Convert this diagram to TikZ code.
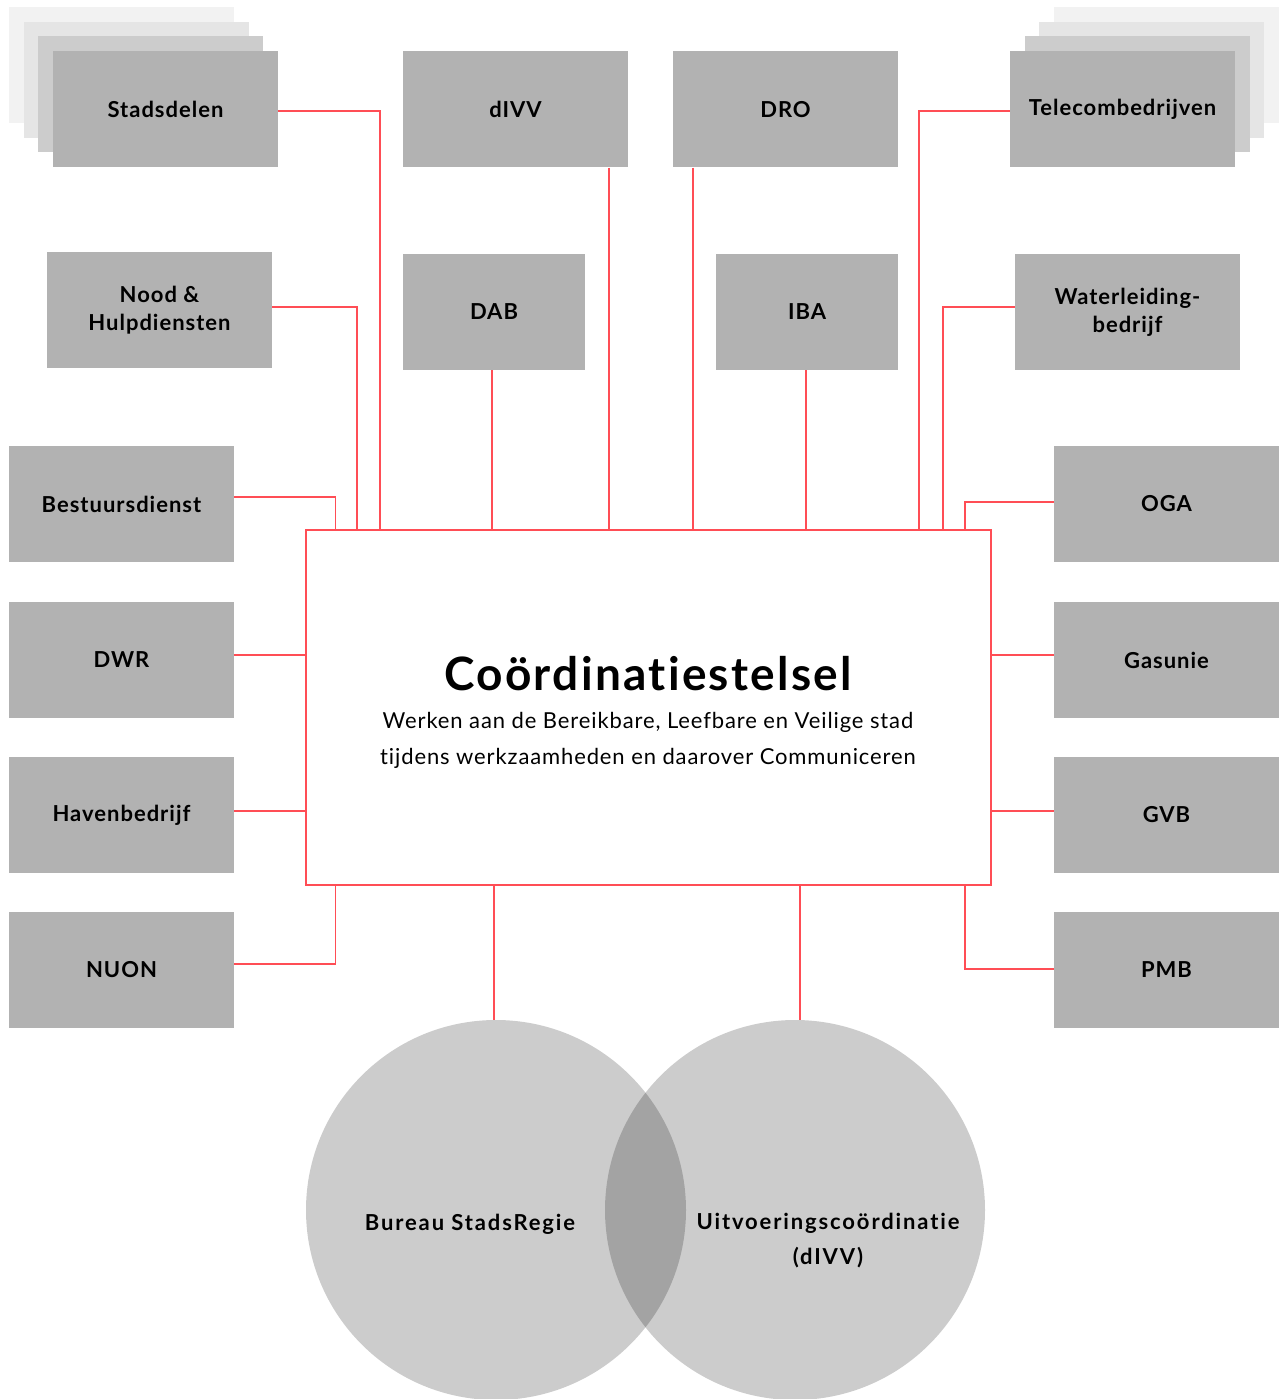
\documentclass[tikz,border=0pt]{standalone}
\usepackage{fontspec}
\setmainfont{Lato}[Ligatures=NoCommon]
\colorlet{colorBox}{black!30}
\colorlet{colorCirc}{black}
\definecolor{colorLine}{HTML}{FF4D55}
\tikzset{
   box/.style={fill=colorBox,minimum width=225pt,minimum height=116pt,inner sep=0pt,align=center,font=\lblfont},
   smallbox/.style={box,minimum width=182pt},
   layer/.style={minimum width=225pt,minimum height=116pt,inner sep=0pt},
   ln/.style={draw=colorLine,line width=1.2pt},
   centre/.style={draw=colorLine,line width=1.4pt,fill=white,minimum width=685pt,minimum height=355pt,inner sep=0pt},
   circ/.style={circle,fill=colorCirc,fill opacity=0.2,minimum size=380pt,inner sep=0pt},
   circtext/.style={align=center,font=\circfont}
 }
\newcommand{\lblfont}{\fontsize{22}{28}\selectfont\bfseries\addfontfeature{LetterSpace=4.5}}
\newcommand{\circfont}{\fontsize{22}{35}\selectfont\bfseries\addfontfeature{LetterSpace=8.5}}
\newcommand{\dln}[2]{\draw[ln] (#1) -| (#2)}
\newcommand{\dvl}[2]{\draw[ln] (#1 -| #2) -- (#2)}
\begin{document}
\begin{tikzpicture}[x=1pt,y=-1pt]
      \useasboundingbox (0,0) rectangle (1282,1399);
      
      % stacked boxes behind Stadsdelen and Telecombedrijven
      \foreach \i/\c/\d in {3/5/44,2/10/29,1/20/15}{
        \node[layer,fill=black!\c] (Stad\i) at (165.5-\d,109.5-\d) {};
        \node[layer,fill=black!\c] (Tel\i) at (1122.5+\d,109.5-\d) {};
      }
      \node[box] (Stad) at (165.5,109.5) {Stadsdelen};
      \node[box] (dIVV) at (515.5,109.5) {dIVV};
      \node[box] (DRO) at (785.5,109.5) {DRO};
      \node[box] (Tel) at (1122.5,109.5) {Telecombedrijven};
      
      \node[box] (Nood) at (159.5,310) {Nood \&\\Hulpdiensten};
      \node[smallbox] (DAB) at (494,312) {DAB};
      \node[smallbox] (IBA) at (807,312) {IBA};
      \node[box] (Water) at (1127.5,312) {Waterleiding-\\bedrijf};
      
      \node[box] (Best) at (121.5,504) {Bestuursdienst};
      \node[box] (DWR) at (121.5,660) {DWR};
      \node[box] (Haven) at (121.5,815) {Havenbedrijf};
      \node[box] (NUON) at (121.5,970) {NUON};
      \node[box] (OGA) at (1166.5,504) {OGA};
      \node[box] (Gas) at (1166.5,660) {Gasunie};
      \node[box] (GVB) at (1166.5,815) {GVB};
      \node[box] (PMB) at (1166.5,970) {PMB};
      
      \node[centre] (Coord) at (648.5,707.5) {};
      \node (Title) at (648,674) {\fontsize{46}{50}\selectfont\bfseries\addfontfeature{LetterSpace=5}Co\"ordinatiestelsel};
      \node[align=center,font=\fontsize{22}{36}\selectfont\addfontfeature{LetterSpace=4}] (Sub) at (648,740)
        {Werken aan de Bereikbare, Leefbare en Veilige stad\\tijdens werkzaamheden en daarover Communiceren};
      
      % taps on the centre box
      \coordinate (tBest) at (335.5,530);
      \coordinate (tNood) at (357,530);
      \coordinate (tStad) at (380,530);
      \coordinate (tDAB) at (492,530);
      \coordinate (tdIVV) at (609,530);
      \coordinate (tDRO) at (693,530);
      \coordinate (tIBA) at (806,530);
      \coordinate (tTel) at (919,530);
      \coordinate (tWater) at (943,530);
      \coordinate (tOGA) at (965,530);
      \coordinate (tNUON) at (335.5,885);
      \coordinate (tBSR) at (494,885);
      \coordinate (tUC) at (800,885);
      \coordinate (tPMB) at (965,885);
      
      \dln{[yshift=-1.5pt]Stad.east}{tStad};
      \dln{[yshift=3pt]Nood.east}{tNood};
      \dln{[yshift=7pt]Best.east}{tBest};
      \dln{[yshift=-1.5pt]Tel.west}{tTel};
      \dln{[yshift=5pt]Water.west}{tWater};
      \dln{[yshift=2pt]OGA.west}{tOGA};
      \dvl{dIVV.south}{tdIVV};
      \dvl{DRO.south}{tDRO};
      \dvl{DAB.south}{tDAB};
      \dvl{IBA.south}{tIBA};
      \draw[ln] ([yshift=5pt]DWR.east) -- ([yshift=5pt]DWR.east -| Coord.west);
      \draw[ln] ([yshift=4pt]Haven.east) -- ([yshift=4pt]Haven.east -| Coord.west);
      \draw[ln] ([yshift=5pt]Gas.west) -- ([yshift=5pt]Gas.west -| Coord.east);
      \draw[ln] ([yshift=4pt]GVB.west) -- ([yshift=4pt]GVB.west -| Coord.east);
      \dln{[yshift=6pt]NUON.east}{tNUON};
      \dln{[yshift=1pt]PMB.west}{tPMB};
      
      % venn
      \node[circ] (BSR) at (496,1210) {};
      \node[circ] (UC) at (795,1210) {};
      \dvl{BSR.north}{tBSR};
      \dvl{UC.north}{tUC};
      \node[circtext] (BSRtext) at (470,1224) {Bureau StadsRegie};
      \node[circtext] (UCtext) at (828,1241) {Uitvoeringsco\"ordinatie\\(dIVV)};
    \end{tikzpicture}
\end{document}
